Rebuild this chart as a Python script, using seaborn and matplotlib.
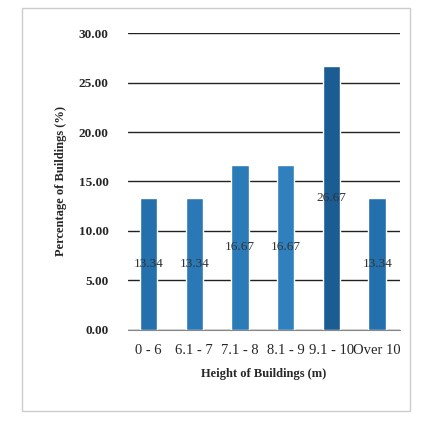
import matplotlib
matplotlib.use("Agg")
import matplotlib.pyplot as plt
import seaborn as sns
import pandas as pd
from matplotlib.patches import Rectangle

# data
heights = ["0 - 6", "6.1 - 7", "7.1 - 8", "8.1 - 9", "9.1 - 10", "Over 10"]
percent = [13.34, 13.34, 16.67, 16.67, 26.67, 13.34]
bar_colors = ["#2470ad", "#2a78b5", "#2a7bb8", "#2f80bd", "#1b5c93", "#2470ad"]

sns.set_style("white")
plt.rcParams["font.family"] = ["Liberation Serif", "DejaVu Serif"]

df = pd.DataFrame({"height": heights, "percent": percent})

fig = plt.figure(figsize=(4.32, 4.24), dpi=100)
ax = fig.add_axes([0.296, 0.222, 0.63, 0.700])

sns.barplot(data=df, x="height", y="percent", hue="height", palette=bar_colors,
            saturation=1, legend=False, width=0.38, ax=ax, zorder=3)

# value labels in the middle of each bar
for i, v in enumerate(percent):
    ax.text(i, v / 2, f"{v:.2f}", ha="center", va="center", fontsize=9.5,
            color="#333333", zorder=4)

ax.set_ylim(0, 30)
ax.set_yticks(range(0, 31, 5))
ax.set_yticklabels([f"{t:.2f}" for t in range(0, 31, 5)], fontsize=9.5, fontweight="bold")
ax.tick_params(axis="x", labelsize=10.5, length=0, pad=10)
ax.tick_params(axis="y", length=0, pad=14)
ax.yaxis.grid(True, color="#222222", linewidth=1.0, zorder=0)
ax.set_xlim(-0.45, 5.5)

for side in ["top", "right", "left"]:
    ax.spines[side].set_visible(False)
ax.spines["bottom"].set_color("#888888")

ax.set_xlabel("Height of Buildings (m)", fontsize=9, fontweight="bold", labelpad=8)
ax.set_ylabel("Percentage of Buildings (%)", fontsize=9, fontweight="bold", labelpad=8)

# light chart-area frame
fig.patches.append(Rectangle((0.05, 0.03), 0.90, 0.95, transform=fig.transFigure,
                             fill=False, edgecolor="#cccccc", linewidth=1.0))

fig.savefig("out.png", dpi=100)
